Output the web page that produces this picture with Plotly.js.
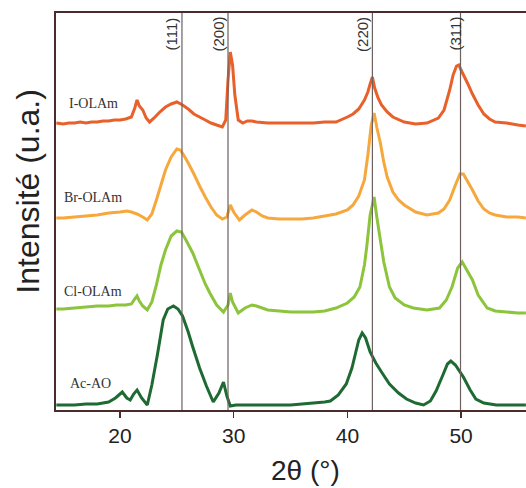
<!DOCTYPE html>
<html>
<head>
<meta charset="utf-8">
<script src="https://cdn.plot.ly/plotly-3.0.1.min.js"></script>
<style>html,body{margin:0;padding:0;background:#fff;}#chart{width:526px;height:488px;}</style>
</head>
<body>
<div id="chart"></div>
<script>
// Series names
const seriesNames = ["I-OLAm", "Br-OLAm", "Cl-OLAm", "Ac-AO"];

// I-OLAm (offset intensity, a.u.)
const xI = [14.4,15,15.5,16,16.5,17,17.5,18,18.5,19,19.5,20,20.5,21,21.3,21.5,21.7,22,22.3,22.6,23,23.5,24,24.5,25,25.5,26,26.5,27,27.5,28,28.5,29,29.3,29.5,29.7,29.9,30.1,30.4,30.8,31.2,31.6,32,33,34,35,36,37,38,39,40,40.5,41,41.5,41.8,42.0,42.2,42.4,42.7,43,43.5,44,45,46,47,48,48.5,49,49.3,49.6,49.8,50,50.3,50.6,51,51.5,52,52.5,53,54,55,55.7];
const yI = [287,286,287,287,288,287,288,288,289,289,290,290,291,293,302,310,304,300,292,288,292,298,303,306,308,305,301,296,293,290,287,285,283,290,330,358,345,315,290,287,289,289,288,287,287,287,287,287,288,288,293,296,301,310,318,326,333,322,312,305,298,293,288,286,287,292,300,320,335,344,345,340,333,326,316,305,296,291,288,287,285,284];

// Br-OLAm
const xBr = [14.4,15,16,17,18,19,20,20.6,21,21.5,22,22.4,22.8,23.2,23.6,24,24.5,25,25.3,25.6,26,26.5,27,27.5,28,28.5,29,29.4,29.7,30,30.5,31,31.6,32,32.5,33,34,35,36,37,38,39,40,40.5,41,41.5,41.8,42.1,42.35,42.6,42.9,43.2,43.5,44,44.5,45,46,47,48,48.5,49,49.5,49.9,50.2,50.6,51,51.5,52,52.5,53,54,55,55.7];
const yBr = [192,192,193,194,195,197,198,199,198,196,193,190,196,210,225,240,253,261,260,255,247,236,224,213,203,195,191,193,205,198,190,195,200,198,194,192,191,191,191,192,194,196,200,205,214,230,255,285,297,282,267,248,233,218,210,205,198,195,197,201,210,225,236,236,228,220,209,201,197,195,193,193,192];

// Cl-OLAm
const xCl = [14.4,15,16,17,18,19,19.7,20.5,21,21.3,21.5,21.7,22,22.4,22.8,23.2,23.6,24,24.5,25,25.4,25.8,26.4,27,27.5,27.9,28.5,29.1,29.5,29.7,29.9,30.4,31,31.6,32,33,34,35,36,37,38,39,40,40.6,41.1,41.5,41.7,42,42.35,42.6,42.9,43.2,43.7,44.2,45,45.8,47,48.1,48.7,49.2,49.7,50.1,50.5,51,51.5,52.3,53,54,55,55.7];
const yCl = [101,101,102,103,104,104,105,105,106,111,114,109,104,100,108,125,145,160,174,179,178,170,157,140,126,117,105,98,105,117,108,97,102,105,104,100,99,98,98,98,99,102,107,113,123,145,163,195,213,192,170,148,123,112,105,102,100,102,110,123,142,148,140,130,115,102,99,98,97,97];

// Ac-AO
const xAc = [14.4,15,16,17,18,18.5,19,19.6,20.2,20.6,20.9,21.2,21.5,21.9,22.4,22.8,23.3,23.8,24.2,24.7,25.1,25.5,26,26.4,27,27.6,28.2,28.7,29.1,29.4,29.7,30.2,31,32,33,34,35,36,37,38,38.5,39.2,39.9,40.4,40.7,41,41.3,41.6,42,42.5,43,43.7,44.5,45.2,46,46.7,47.3,47.8,48.4,48.8,49.1,49.5,50.2,50.8,51.3,52,53.1,54,55,55.7];
const yAc = [5,5,5,6,6,7,8,12,18,12,10,16,20,12,5,25,56,90,101,104,101,94,78,63,42,24,8,17,28,14,4,5,5,5,5,5,5,6,7,8,9,15,26,42,56,70,77,72,58,47,38,26,17,11,7,5,9,19,35,46,49,45,33,20,11,7,5,5,5,5];

// Reflection positions and labels
const peakPos = [25.45, 29.5, 42.2, 49.95];
const peakLabels = ["(111)", "(200)", "(220)", "(311)"];
const labelShift = [-10, -10, -10, -6];

// Axis tick values
const xTicks = [20, 30, 40, 50];

const colors = ["#e8602a", "#f6a83c", "#8cc43c", "#1e6a32"];
const xs = [xI, xBr, xCl, xAc];
const ys = [yI, yBr, yCl, yAc];

const traces = seriesNames.map((n, i) => ({
  type: "scatter", mode: "lines", name: n,
  x: xs[i], y: ys[i],
  line: {color: colors[i], width: 3, simplify: false},
  hoverinfo: "skip"
}));

// label positions (in data coords, near left of each curve)
const nameX = [17.7, 17.6, 17.6, 17.4];
const nameY = [307, 213, 119, 27];

const annotations = [];
seriesNames.forEach((n, i) => annotations.push({
  x: nameX[i], y: nameY[i], xref: "x", yref: "y", text: n, showarrow: false,
  font: {family: "Liberation Serif, DejaVu Serif, serif", size: 14, color: "#333"}
}));
peakLabels.forEach((t, i) => annotations.push({
  x: peakPos[i], y: 1, xref: "x", yref: "paper", yanchor: "top", yshift: -2,
  xshift: labelShift[i], text: t, showarrow: false, textangle: -90,
  font: {family: "Liberation Sans, Arial, sans-serif", size: 15, color: "#333"}
}));
annotations.push({
  x: (305 - 56) / 470, y: -(470 - 410) / 397, xref: "paper", yref: "paper",
  xanchor: "center", yanchor: "middle",
  text: "2θ (°)", showarrow: false,
  font: {family: "Liberation Sans, Arial, sans-serif", size: 28, color: "#222"}
});
annotations.push({
  x: (28 - 56) / 470, y: 0.55, xref: "paper", yref: "paper", xanchor: "center", yanchor: "middle",
  text: "Intensité (u.a.)", showarrow: false, textangle: -90,
  font: {family: "Liberation Sans, Arial, sans-serif", size: 32, color: "#222"}
});

const shapes = peakPos.map(p => ({
  type: "line", xref: "x", yref: "paper", x0: p, x1: p, y0: 0, y1: 1,
  line: {color: "#6f6060", width: 1.2}, layer: "above"
}));

const layout = {
  width: 526, height: 488,
  margin: {l: 56, r: 0, t: 13, b: 78},
  paper_bgcolor: "#fff", plot_bgcolor: "#fff",
  showlegend: false,
  xaxis: {
    range: [14.37, 55.71], tickvals: xTicks, ticktext: xTicks.map(String),
    ticks: "outside", ticklen: 6, tickwidth: 1.5, tickcolor: "#4a2c2c",
    showline: true, linecolor: "#4a2c2c", linewidth: 2, mirror: true,
    showgrid: false, zeroline: false,
    tickfont: {family: "Liberation Sans, Arial, sans-serif", size: 21, color: "#222"}
  },
  yaxis: {
    range: [0, 397], showticklabels: false, ticks: "",
    showline: true, linecolor: "#4a2c2c", linewidth: 2,
    showgrid: false, zeroline: false
  },
  annotations: annotations,
  shapes: shapes
};

Plotly.newPlot("chart", traces, layout, {staticPlot: true, displayModeBar: false});
</script>
</body>
</html>
